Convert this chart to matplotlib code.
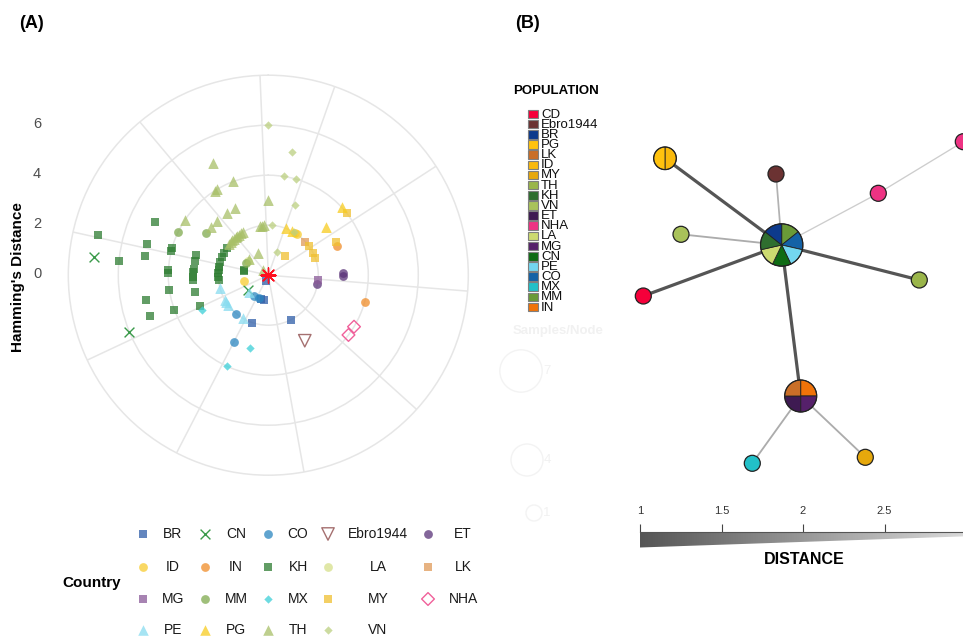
import numpy as np
import matplotlib
matplotlib.use("Agg")
import matplotlib.pyplot as plt
from matplotlib.patches import Wedge, Circle, Rectangle, Polygon
from matplotlib.colors import LinearSegmentedColormap, Normalize

plt.rcParams["font.family"] = ["Liberation Sans", "DejaVu Sans"]

# -------------------------------------------------
# Panel A data: angle (deg, clockwise from top) and Hamming distance
# -------------------------------------------------
BR_ANGLE = [201, 197.5, 190, 198.6, 153.4]
BR_DIST = [0.25, 1, 1, 2, 2]
CN_ANGLE = [276, 247.8, 233.5]
CN_DIST = [7, 6, 1]
CO_ANGLE = [214, 203, 220, 207.4]
CO_DIST = [1, 1, 2, 3]
EBRO_ANGLE = [150.9]
EBRO_DIST = [3]
ET_ANGLE = [100.4, 88.6, 90.6]
ET_DIST = [2, 3, 3]
ID_ANGLE = [257.6, 32.5, 35]
ID_DIST = [1, 2, 2]
IN_ANGLE = [105.5, 67.2]
IN_DIST = [4, 3]
KH_ANGLE = [283.4,
            275.4,
            295, 284.4, 279, 258.7, 251,
            285.7, 283.9, 273.2, 271, 261.2, 249.8,
            285.3, 281.3, 275, 272.5, 268.7, 266.2, 257.4, 246.1,
            264, 268, 272, 276, 280, 285, 291, 297, 303.6,
            283, 280]
KH_DIST = [7,
           6,
           5, 5, 5, 5, 5,
           4, 4, 4, 4, 4, 4,
           3, 3, 3, 3, 3, 3, 3, 3,
           2, 2, 2, 2, 2, 2, 2, 2, 2,
           1, 1]
LA_ANGLE = [304]
LA_DIST = [1]
LK_ANGLE = [47.8]
LK_DIST = [2]
MG_ANGLE = [95.5]
MG_DIST = [2]
MM_ANGLE = [295.4, 303.9, 298]
MM_DIST = [4, 3, 1]
MX_ANGLE = [194, 204.3, 242.5]
MX_DIST = [3, 4, 3]
MY_ANGLE = [41, 53.6, 63.4, 69.3, 63.7, 51.6]
MY_DIST = [1, 2, 2, 2, 3, 4]
NHA_ANGLE = [121, 126.7]
NHA_DIST = [4, 4]
PE_ANGLE = [255, 240, 237, 233.6, 211, 229]
PE_DIST = [2, 2, 2, 2, 2, 1]
PG_ANGLE = [20.9, 28.6, 49.9, 47.3]
PG_DIST = [2, 2, 3, 4]
TH_ANGLE = [333.6, 327.5, 329, 339.6, 303.4, 0, 333.7, 326.6, 316.8, 310.3,
            350.2, 352.7, 355.6, 330, 327, 324, 321.5, 319.5, 316.5, 314, 311, 308,
            335, 309, 311]
TH_DIST = [5, 4, 4, 4, 4, 3, 3, 3, 3, 3,
           2, 2, 2, 2, 2, 2, 2, 2, 2, 2, 2, 2,
           1, 1, 0.3]
VN_ANGLE = [0, 10.9, 9.1, 16.2, 21, 4.5, 31, 19.7]
VN_DIST = [6, 5, 4, 4, 3, 2, 2, 1]
REF_ANGLE = [0]
REF_DIST = [0]

SPOKES = 19.4 + 37.58 * np.arange(10)

COUNTRIES = ["BR", "CN", "CO", "Ebro1944", "ET",
             "ID", "IN", "KH", "LA", "LK",
             "MG", "MM", "MX", "MY", "NHA",
             "PE", "PG", "TH", "VN"]
ANGLES = [BR_ANGLE, CN_ANGLE, CO_ANGLE, EBRO_ANGLE, ET_ANGLE,
          ID_ANGLE, IN_ANGLE, KH_ANGLE, LA_ANGLE, LK_ANGLE,
          MG_ANGLE, MM_ANGLE, MX_ANGLE, MY_ANGLE, NHA_ANGLE,
          PE_ANGLE, PG_ANGLE, TH_ANGLE, VN_ANGLE]
DISTS = [BR_DIST, CN_DIST, CO_DIST, EBRO_DIST, ET_DIST,
         ID_DIST, IN_DIST, KH_DIST, LA_DIST, LK_DIST,
         MG_DIST, MM_DIST, MX_DIST, MY_DIST, NHA_DIST,
         PE_DIST, PG_DIST, TH_DIST, VN_DIST]

# marker, colour, size, hollow
STYLE = {
    "BR": ("s", "#2f5ea8", 36, False),
    "CN": ("x", "#3a9a4a", 50, False),
    "CO": ("o", "#2b86c0", 40, False),
    "Ebro1944": ("v", "#a57070", 80, True),
    "ET": ("o", "#5a3378", 40, False),
    "ID": ("o", "#f8cc30", 40, False),
    "IN": ("o", "#f08c28", 40, False),
    "KH": ("s", "#2e7d32", 36, False),
    "LA": ("o", "#d6e08a", 40, False),
    "LK": ("s", "#e09a58", 36, False),
    "MG": ("s", "#8a5a98", 36, False),
    "MM": ("o", "#7faa4e", 40, False),
    "MX": ("D", "#3ccfd8", 18, False),
    "MY": ("s", "#f0c030", 36, False),
    "NHA": ("D", "#f0609a", 42, True),
    "PE": ("^", "#88dcf0", 58, False),
    "PG": ("^", "#f8cc20", 58, False),
    "TH": ("^", "#a8c068", 58, False),
    "VN": ("D", "#bcd080", 18, False),
}

# -------------------------------------------------
# Panel B data: haplotype network
# -------------------------------------------------
POPULATIONS = ["CD", "Ebro1944", "BR", "PG", "LK", "ID", "MY", "TH", "KH", "VN",
               "ET", "NHA", "LA", "MG", "CN", "PE", "CO", "MX", "MM", "IN"]
POP_COLORS = ["#f5003a", "#6b3232", "#0d3a8c", "#ffc20e", "#c96f28", "#f9b90c",
              "#e6a80c", "#9ab54a", "#2f6e2f", "#a9c25a", "#3e1a52", "#ee3383",
              "#ccda70", "#55206a", "#0f6b14", "#73d6f0", "#1462a6", "#22c0c8",
              "#6a9a38", "#f07309"]

NODE_X = [0, -11.67, -0.57, 9.66, 18.16, -10.07, -13.84, 13.76, 1.9, -2.94, 8.36]
NODE_Y = [0, 8.67, 7.1, 5.17, 10.33, 1.07, -5.1, -3.5, -15.1, -21.83, -21.23]
NODE_POPS = [["MM", "CO", "PE", "CN", "LA", "KH", "BR"],
             ["ID", "PG"],
             ["Ebro1944"],
             ["NHA"],
             ["NHA"],
             ["VN"],
             ["CD"],
             ["TH"],
             ["IN", "MG", "ET", "LK"],
             ["MX"],
             ["MY"]]
EDGE_FROM = [0, 0, 0, 0, 0, 0, 0, 3, 8, 8]
EDGE_TO = [1, 6, 7, 8, 5, 2, 3, 4, 9, 10]
EDGE_DIST = [1, 1, 1, 1, 2.3, 2.4, 2.8, 2.8, 2.3, 2.3]

SIZE_LEGEND = [7, 4, 1]
DIST_TICKS = [1, 1.5, 2, 2.5]

# -------------------------------------------------
W, H = 963, 636
fig = plt.figure(figsize=(W / 100, H / 100), dpi=100)

# ---- Panel A: polar scatter ----
cx, cy, rad = 268.3, 275.2, 200
ax = fig.add_axes([(cx - rad) / W, (H - cy - rad) / H, 2 * rad / W, 2 * rad / H],
                  projection="polar")
ax.set_theta_zero_location("N")
ax.set_theta_direction(-1)
ax.set_ylim(0, 8)
ax.set_yticks([2, 4, 6])
ax.set_yticklabels([])
ax.set_xticks(np.deg2rad(SPOKES))
ax.set_xticklabels([])
ax.tick_params(length=0)
ax.grid(True, color="#e6e6e6", lw=1.1)
ax.spines["polar"].set_color("#e6e6e6")
ax.spines["polar"].set_linewidth(1.1)

for name, ang, dist in zip(COUNTRIES, ANGLES, DISTS):
    m, col, s, hollow = STYLE[name]
    th = np.deg2rad(ang)
    if hollow:
        ax.scatter(th, dist, marker=m, s=s, facecolors="none", edgecolors=col,
                   linewidths=1.0, zorder=3)
    elif m == "x":
        ax.scatter(th, dist, marker=m, s=s, c=col, linewidths=1.0, zorder=3)
    else:
        ax.scatter(th, dist, marker=m, s=s, c=col, alpha=0.75, linewidths=0, zorder=3)
ax.scatter(np.deg2rad(REF_ANGLE), REF_DIST, marker=(8, 2, 0), s=120, c="#ff1020",
           linewidths=1.0, zorder=4)

# overlay for annotations (pixel coordinates)
ov = fig.add_axes([0, 0, 1, 1])
ov.set_xlim(0, W)
ov.set_ylim(H, 0)
ov.axis("off")

ov.text(31, 24, "(A)", fontsize=13, fontweight="bold", ha="center", va="center")
ov.text(527, 24, "(B)", fontsize=13, fontweight="bold", ha="center", va="center")
ov.text(18, 277, "Hamming's Distance", rotation=90, fontsize=11, fontweight="bold",
        ha="center", va="center")
for r in [0, 2, 4, 6]:
    px, py = ax.transData.transform((0, r))
    ov.text(37, H - py - 1, str(r), fontsize=10.5, color="#4d4d4d",
            ha="center", va="center")

# country legend
key_x = [143, 205, 268, 328, 428]
lab_x = [173, 236, 298, 378, 463]
row_y = [534, 567, 599, 630]
for i, name in enumerate(COUNTRIES):
    m, col, s, hollow = STYLE[name]
    x, y = key_x[i % 5], row_y[i // 5]
    if hollow:
        ov.scatter(x, y, marker=m, s=s, facecolors="none", edgecolors=col, linewidths=1.0)
    elif m == "x":
        ov.scatter(x, y, marker=m, s=s, c=col, linewidths=1.0)
    else:
        ov.scatter(x, y, marker=m, s=s, c=col, alpha=0.75, linewidths=0)
    ov.text(lab_x[i % 5], y, name, fontsize=10, color="#1a1a1a", ha="center", va="center")
ov.text(92, 583, "Country", fontsize=11, fontweight="bold", ha="center", va="center")

# population legend
ov.text(513, 91, "POPULATION", fontsize=9.5, fontweight="bold", ha="left", va="center")
for i, (pop, col) in enumerate(zip(POPULATIONS, POP_COLORS)):
    y = 114 + i * 10.16
    ov.add_patch(Rectangle((528, y - 4.3), 10, 8.6, facecolor=col,
                           edgecolor="#7f7f7f", lw=0.8))
    ov.text(541, y + 0.5, pop, fontsize=9.5, color="#111111", ha="left", va="center")

# faded node-size legend
ov.text(513, 331, "Samples/Node", fontsize=9.5, fontweight="bold", color="#f1f1f1",
        ha="left", va="center")
for n, (sx, sy) in zip(SIZE_LEGEND, [(521, 371), (527, 460), (534, 513)]):
    ov.add_patch(Circle((sx, sy), 8 * np.sqrt(n), facecolor="none",
                        edgecolor="#f3f3f3", lw=1))
    ov.text(547, sy, str(n), fontsize=9.5, color="#f1f1f1", ha="center", va="center")

ov.text(804, 559, "DISTANCE", fontsize=11.5, fontweight="bold", ha="center", va="center")

# ---- Panel B: network ----
gray = LinearSegmentedColormap.from_list("dist", ["#555555", "#dadada"])
norm = Normalize(1, 3)
color_of = dict(zip(POPULATIONS, POP_COLORS))

axb = fig.add_axes([600 / W, (H - 480) / H, 363 / W, 380 / H])
axb.set_xlim(-18.17, 18.13)
axb.set_ylim(-23.5, 14.5)
axb.axis("off")

for a, b, d in zip(EDGE_FROM, EDGE_TO, EDGE_DIST):
    axb.plot([NODE_X[a], NODE_X[b]], [NODE_Y[a], NODE_Y[b]], color=gray(norm(d)),
             lw=2.3 - 0.75 * (d - 1), solid_capstyle="butt", zorder=1)

for x, y, pops in zip(NODE_X, NODE_Y, NODE_POPS):
    rr = 0.8 * np.sqrt(len(pops))
    step = 360 / len(pops)
    for k, pop in enumerate(pops):
        if len(pops) == 1:
            axb.add_patch(Circle((x, y), rr, facecolor=color_of[pop], edgecolor="none",
                                 zorder=2))
        else:
            axb.add_patch(Wedge((x, y), rr, 90 - (k + 1) * step, 90 - k * step,
                                facecolor=color_of[pop], edgecolor="#222222", lw=0.6,
                                zorder=2))
    axb.add_patch(Circle((x, y), rr, facecolor="none", edgecolor="#222222", lw=0.9,
                         zorder=3))

# ---- distance scale ----
axd = fig.add_axes([640 / W, (H - 548) / H, 323 / W, 16.5 / H])
axd.set_xlim(1, 1 + 323 / 163)
axd.set_ylim(0, 1)
grad = np.linspace(1, 3, 256).reshape(1, -1)
img = axd.imshow(grad, cmap=gray, norm=norm, extent=[1, 3, 0, 1], aspect="auto")
wedge = Polygon([(1, 1), (3, 1), (3, 1 - 4.8 / 16.5), (1, 1 - 16 / 16.5)],
                closed=True, transform=axd.transData, facecolor="none", edgecolor="none")
axd.add_patch(wedge)
img.set_clip_path(wedge)
for sp in ["bottom", "left", "right"]:
    axd.spines[sp].set_visible(False)
axd.spines["top"].set_color("#555555")
axd.spines["top"].set_linewidth(0.8)
axd.xaxis.tick_top()
axd.set_xticks(DIST_TICKS)
axd.set_xticklabels([f"{t:g}" for t in DIST_TICKS])
axd.tick_params(axis="x", length=6, width=0.8, color="#444444", labelsize=8,
                labelcolor="#333333", pad=5)
axd.set_yticks([])

fig.savefig("out.png", dpi=100)
